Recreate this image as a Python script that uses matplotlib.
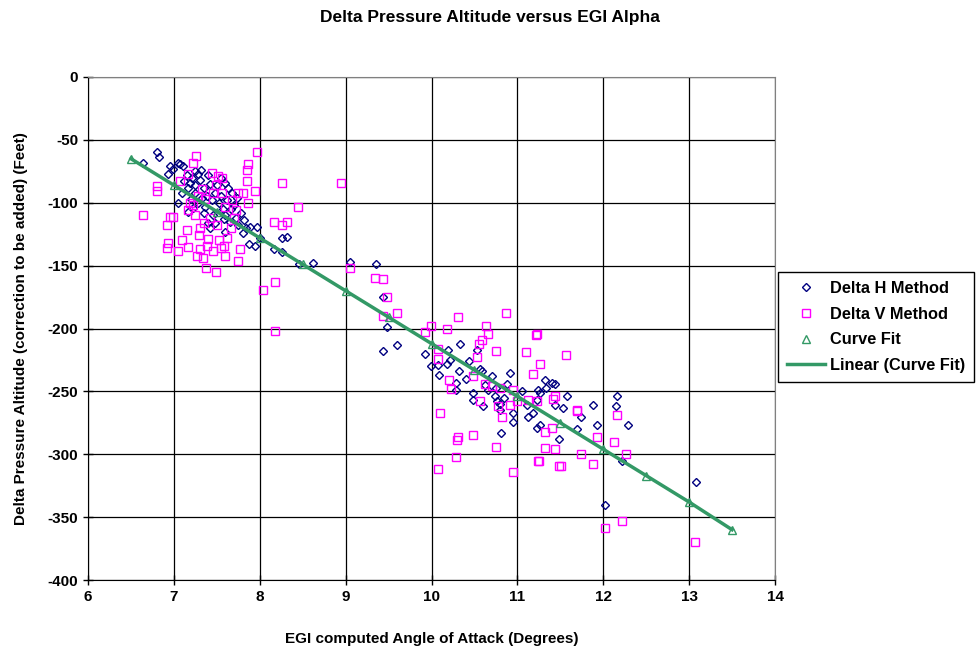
import matplotlib.pyplot as plt

plt.rcParams['font.family'] = ['Liberation Sans', 'DejaVu Sans']
plt.rcParams['font.weight'] = 'bold'
plt.rcParams['axes.unicode_minus'] = False

# Delta H Method (diamonds)
dh_x = [6.64, 6.80, 6.83, 6.93, 6.95, 6.99, 7.07, 7.11, 7.05, 7.15, 7.19, 7.17, 7.21, 7.25, 7.28,
        7.30, 7.32, 7.35, 7.38, 7.40, 7.42, 7.25, 7.28, 7.33, 7.16, 7.22, 7.40, 7.45, 7.48, 7.36,
        7.44, 7.48, 7.50, 7.52, 7.55, 7.57, 7.60, 7.62, 7.63, 7.65, 7.59, 7.67, 7.70, 7.72, 7.74,
        7.75, 7.78, 7.80, 7.82, 7.84, 7.89, 7.97, 8.00, 7.87, 7.94, 8.26, 8.32, 8.17, 8.26, 8.46,
        8.62, 7.05, 7.10, 7.20, 7.55, 7.60, 7.68, 7.35, 7.58, 7.42, 7.12, 7.25,
        9.05, 9.35, 9.43, 9.48, 9.43, 9.60, 9.93, 9.99, 10.07, 10.09, 10.19, 10.21, 10.18, 10.32,
        10.33, 10.44, 10.53, 10.56, 10.59, 10.28, 10.28, 10.70, 10.88, 10.91, 10.48, 10.48, 10.62,
        10.66, 10.74, 10.76, 10.80, 10.80, 10.95, 10.95, 10.81, 11.11, 11.12, 11.18, 11.23, 11.26,
        11.24, 11.23, 11.32, 11.40, 11.44, 11.33, 11.26, 11.44, 11.53, 11.48, 11.58, 11.70, 11.74,
        11.88, 11.93, 12.15, 12.16, 12.29, 12.22, 12.02, 13.08, 10.40, 10.75, 11.05, 10.85, 10.60]
dh_y = [-68, -60, -64, -77, -71, -73, -69, -71, -68, -78, -84, -88, -80, -75, -77,
        -82, -74, -88, -95, -78, -85, -92, -100, -96, -107, -104, -116, -110, -116, -103,
        -98, -92, -86, -100, -95, -105, -110, -98, -88, -115, -123, -105, -102, -112, -96,
        -118, -108, -124, -114, -120, -119, -119, -128, -133, -134, -128, -127, -137, -139, -149,
        -148, -100, -92, -97, -80, -84, -92, -108, -113, -120, -83, -86,
        -147, -149, -175, -199, -218, -213, -220, -230, -229, -237, -217, -225, -228, -234,
        -212, -226, -217, -232, -234, -243, -249, -238, -244, -235, -251, -257, -245,
        -249, -254, -258, -260, -265, -267, -274, -283, -261, -270, -267, -279, -277,
        -249, -257, -241, -243, -244, -247, -251, -261, -263, -288, -254, -280, -270,
        -261, -277, -262, -254, -277, -305, -340, -322, -240, -247, -250, -255, -262]

# Delta V Method (squares)
dv_x = [6.64, 6.80, 6.80, 6.92, 6.93, 6.92, 6.95, 6.99, 7.05, 7.07, 7.16, 7.22, 7.26, 7.19, 7.16,
        7.15, 7.16, 7.27, 7.29, 7.30, 7.34, 7.37, 7.40, 7.49, 7.10, 7.22, 7.28, 7.33, 7.36, 7.44,
        7.56, 7.51, 7.49, 7.45, 7.56, 7.75, 7.85, 7.80, 7.86, 7.85, 7.97, 7.94, 7.86, 8.26, 8.95,
        8.44, 8.17, 8.26, 8.32, 7.77, 7.75, 7.59, 7.55, 7.62, 7.50, 7.42, 7.60, 7.70, 7.66, 7.52,
        7.38, 7.46, 7.58, 7.68, 7.72, 8.18, 8.04, 8.18, 7.35, 7.25, 7.30,
        9.05, 9.34, 9.43, 9.48, 9.43, 9.60, 9.93, 9.99, 10.18, 10.31, 10.07, 10.07, 10.87, 10.63,
        10.66, 10.59, 10.55, 10.75, 11.10, 11.23, 11.22, 11.57, 11.26, 11.18, 10.53, 10.48, 10.20,
        10.23, 10.62, 10.71, 10.80, 10.95, 10.99, 11.12, 10.56, 10.91, 10.78, 10.82, 10.10, 10.31,
        10.30, 10.48, 10.75, 10.28, 10.07, 10.95, 11.24, 11.23, 11.70, 12.16, 11.40, 11.32, 11.93,
        12.13, 11.32, 11.44, 11.74, 12.27, 11.25, 11.88, 11.48, 11.51, 12.22, 12.02, 13.07, 11.44,
        11.42, 11.69]
dv_y = [-110, -87, -91, -118, -132, -136, -111, -111, -138, -83, -77, -68, -63, -100, -106,
        -122, -135, -142, -126, -137, -144, -152, -129, -155, -130, -102, -95, -89, -97, -76,
        -80, -79, -86, -92, -92, -92, -83, -92, -69, -74, -60, -91, -100, -84, -84,
        -103, -115, -118, -115, -137, -146, -142, -136, -128, -118, -112, -103, -112, -120, -130,
        -134, -138, -134, -98, -106, -163, -169, -202, -116, -110, -120,
        -152, -160, -161, -175, -190, -188, -203, -198, -200, -191, -216, -224, -188, -198,
        -204, -209, -212, -218, -219, -204, -205, -221, -228, -236, -223, -238, -241,
        -248, -244, -246, -247, -249, -258, -257, -258, -261, -262, -270, -267, -286,
        -289, -285, -294, -302, -312, -314, -305, -258, -266, -269, -279, -282, -286,
        -290, -295, -296, -300, -300, -305, -308, -309, -309, -353, -359, -370, -254,
        -256, -265]

# Curve Fit
fit_x = [6.5, 7.0, 7.5, 8.0, 8.5, 9.0, 9.5, 10.0, 10.5, 11.0, 11.5, 12.0, 12.5, 13.0, 13.5]
fit_y = [-65, -86, -107, -128, -149, -170, -191, -212, -233, -254, -275, -296, -317, -338, -360]

fig = plt.figure(figsize=(9.8, 6.52), dpi=100)
ax = fig.add_axes([88 / 980, 1 - 580 / 652, (775 - 88) / 980, (580 - 77) / 652])

ax.plot(dh_x, dh_y, linestyle='none', marker='D', markersize=4.4, markerfacecolor='none',
        markeredgecolor='#000080', markeredgewidth=1.0, label='Delta H Method', zorder=3)
ax.plot(dv_x, dv_y, linestyle='none', marker='s', markersize=6.2, markerfacecolor='none',
        markeredgecolor='#FF00FF', markeredgewidth=1.0, label='Delta V Method', zorder=3)
ax.plot(fit_x, fit_y, linestyle='none', marker='^', markersize=6, markerfacecolor='none',
        markeredgecolor='#339966', markeredgewidth=1.0, label='Curve Fit', zorder=4)
ax.plot(fit_x, fit_y, color='#339966', linewidth=2.5, label='Linear (Curve Fit)', zorder=4)

ax.set_xlim(6, 14)
ax.set_ylim(-400, 0)
ax.set_xticks(range(6, 15))
ax.set_yticks(range(-400, 1, 50))
ax.grid(True, color='black', linewidth=0.9)
ax.set_axisbelow(True)
ax.tick_params(direction='inout', length=7, width=1, labelsize=11)
for lab in ax.get_xticklabels() + ax.get_yticklabels():
    lab.set_fontweight('bold')
ax.spines['top'].set_color('#808080')
ax.spines['right'].set_color('#808080')

ax.set_xlabel('EGI computed Angle of Attack (Degrees)', fontsize=11, fontweight='bold', labelpad=20)
ax.set_ylabel('Delta Pressure Altitude (correction to be added) (Feet)', fontsize=11,
              fontweight='bold', labelpad=14)
fig.suptitle('Delta Pressure Altitude versus EGI Alpha', fontsize=12.5, fontweight='bold', y=0.985)

leg = fig.legend(loc='upper left', bbox_to_anchor=(778 / 980, 1 - 272 / 652), fancybox=False,
                 edgecolor='black', framealpha=1, prop={'weight': 'bold', 'size': 11.8},
                 borderaxespad=0, handlelength=2.3, labelspacing=0.65, borderpad=0.55,
                 handletextpad=0.3)
leg.get_frame().set_linewidth(1)

fig.savefig('out.png', dpi=100)
